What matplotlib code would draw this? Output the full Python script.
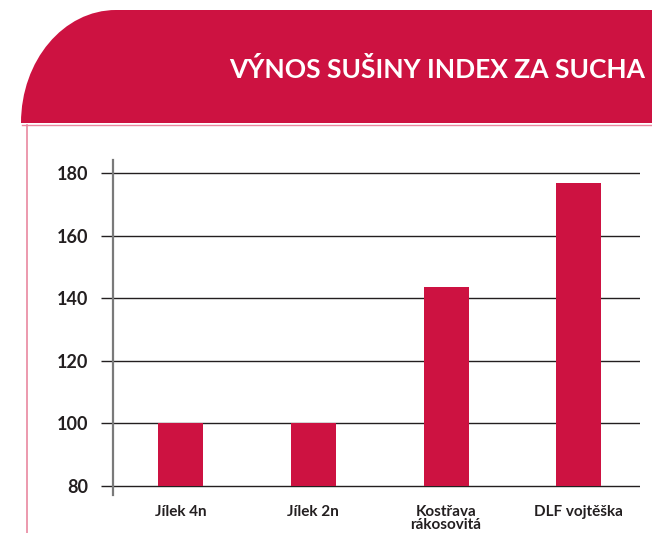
import matplotlib
matplotlib.use("Agg")
import matplotlib.pyplot as plt
from matplotlib.path import Path
from matplotlib.patches import PathPatch
from matplotlib.transforms import Affine2D

# data
categories = ["Jílek 4n", "Jílek 2n", "Kostřava\nrákosovitá", "DLF vojtěška"]
values = [100, 100, 143.5, 177]
yticks = [80, 100, 120, 140, 160, 180]
title = "VÝNOS SUŠINY INDEX ZA SUCHA"

RED = "#CD1241"
PINK = "#E9879F"
DARK = "#231F20"
W, H = 652, 533

plt.rcParams["font.family"] = ["Lato", "DejaVu Sans"]

fig = plt.figure(figsize=(W / 100, H / 100), dpi=100)
px = Affine2D().scale(1 / W, 1 / H) + fig.transFigure


def fy(y):
    return H - y


# header banner with rounded top-left corner
k = 0.5523
left, top, bottom = 21, 10, 123
rx, ry = 95, 113
verts = [
    (left, fy(bottom)),
    (left, fy(bottom - ry * k)),
    (left + rx - rx * k, fy(top)),
    (left + rx, fy(top)),
    (W + 5, fy(top)),
    (W + 5, fy(bottom)),
    (left, fy(bottom)),
]
codes = [Path.MOVETO, Path.CURVE4, Path.CURVE4, Path.CURVE4,
         Path.LINETO, Path.LINETO, Path.CLOSEPOLY]
fig.patches.append(PathPatch(Path(verts, codes), facecolor=RED,
                             edgecolor="none", transform=px))

# thin pink frame lines
fig.add_artist(plt.Line2D([22, W], [fy(124.5), fy(124.5)], color=PINK, lw=1, transform=px))
fig.add_artist(plt.Line2D([27, 27], [fy(124.5), 0], color=PINK, lw=1.2, transform=px))

fig.text(645 / W, fy(69) / H, title, color="white", fontsize=19,
         fontweight="bold", ha="right", va="center")

# chart
ax = fig.add_axes([113 / W, 1 - 495 / H, (640 - 113) / W, (495 - 160) / H])
x = range(len(categories))
base = 80
ax.bar(x, [v - base for v in values], width=0.34, bottom=base, color=RED, zorder=3)

ax.set_ylim(77.1, 184.2)
ax.set_xlim(-0.508, 3.46)
ax.set_yticks(yticks)
ax.set_yticklabels([str(t) for t in yticks])
ax.set_xticks(list(x))
ax.set_xticklabels(categories, linespacing=0.95)

for t in yticks:
    ax.axhline(t, color=DARK, lw=1.0, zorder=1)

for s in ["top", "right", "bottom"]:
    ax.spines[s].set_visible(False)
ax.spines["left"].set_color("#7A7A7A")
ax.spines["left"].set_linewidth(1.6)
ax.spines["left"].set_zorder(4)

ax.tick_params(axis="y", length=8.6, width=1.0, color=DARK, pad=9,
               labelsize=13, labelcolor=DARK)
ax.tick_params(axis="x", length=0, pad=7, labelsize=11, labelcolor=DARK)
for lab in ax.get_yticklabels() + ax.get_xticklabels():
    lab.set_fontweight("bold")
for lab in ax.get_xticklabels():
    lab.set_va("top")

fig.savefig("out.png", dpi=100)
